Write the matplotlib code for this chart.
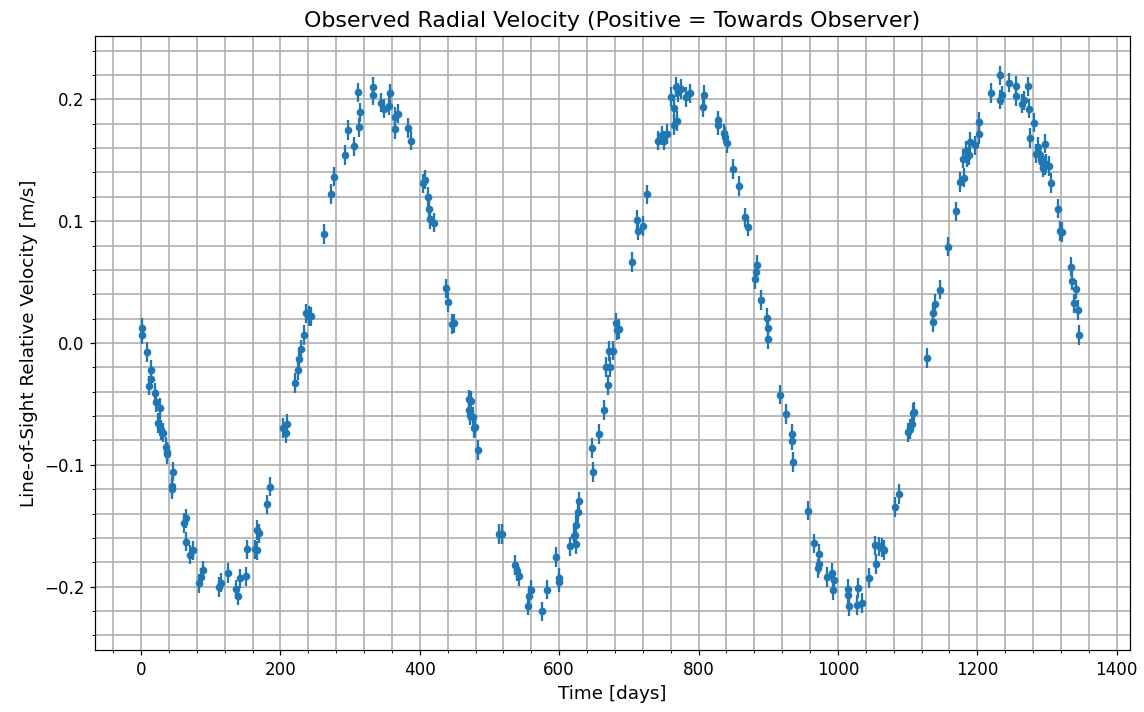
import matplotlib
matplotlib.use("Agg")
import matplotlib.pyplot as plt
from matplotlib.ticker import AutoMinorLocator

# observation times [days]
days = [1, 2, 9, 15, 14, 12, 20, 22, 27, 24, 27, 28, 31, 36, 38, 37, 46, 44, 45,
        62, 64, 64, 71, 74, 83, 86, 89, 112, 115, 125, 136, 139, 142, 151, 152,
        163, 166, 166, 170, 181, 185, 204, 210, 208, 221, 225, 227, 230, 234,
        237, 241, 244, 263, 273, 277, 292, 297, 306, 313, 314, 312, 333, 333,
        345, 349, 356, 357, 365, 369, 364, 383, 387, 405, 408, 412, 413, 415,
        421, 438, 441, 446, 449, 470, 474, 471, 472, 476, 478, 479, 483, 513,
        518, 537, 540, 543, 559, 557, 555, 575, 582, 596, 600, 600, 616, 621,
        622, 624, 624, 627, 628, 647, 649, 657, 664, 670, 667, 673, 672, 677,
        681, 683, 686, 704, 712, 713, 720, 726, 742, 747, 750, 754, 760, 765,
        765, 769, 768, 771, 775, 782, 787, 807, 808, 828, 828, 836, 838, 841,
        849, 858, 867, 871, 884, 882, 881, 890, 898, 899, 899, 917, 926, 934,
        934, 936, 957, 965, 973, 973, 971, 984, 992, 995, 993, 1015, 1015, 1016,
        1029, 1028, 1034, 1044, 1055, 1053, 1059, 1066, 1063, 1082, 1087, 1101,
        1103, 1106, 1108, 1109, 1128, 1136, 1137, 1139, 1146, 1158, 1170, 1175,
        1181, 1180, 1183, 1185, 1188, 1190, 1196, 1202, 1202, 1220, 1232, 1235,
        1233, 1246, 1256, 1255, 1273, 1264, 1267, 1274, 1281, 1275, 1287, 1284,
        1290, 1297, 1292, 1294, 1299, 1297, 1303, 1306, 1316, 1319, 1322, 1334,
        1336, 1341, 1338, 1344, 1346]

# radial velocity [m/s]
rv = [0.0125, 0.0068, -0.0074, -0.0219, -0.0293, -0.0350, -0.0412, -0.0484,
      -0.0535, -0.0656, -0.0686, -0.0713, -0.0735, -0.0850, -0.0891, -0.0910,
      -0.1055, -0.1172, -0.1199, -0.1478, -0.1440, -0.1631, -0.1738, -0.1702,
      -0.1973, -0.1924, -0.1866, -0.2002, -0.1967, -0.1888, -0.2022, -0.2074,
      -0.1932, -0.1916, -0.1694, -0.1694, -0.1702, -0.1533, -0.1563, -0.1325,
      -0.1178, -0.0699, -0.0666, -0.0740, -0.0330, -0.0221, -0.0134, -0.0052,
      0.0066, 0.0243, 0.0221, 0.0219, 0.0896, 0.1224, 0.1366, 0.1543, 0.1749,
      0.1615, 0.1770, 0.1893, 0.2057, 0.2104, 0.2035, 0.1973, 0.1924, 0.1948,
      0.2049, 0.1855, 0.1883, 0.1757, 0.1765, 0.1661, 0.1311, 0.1342, 0.1199,
      0.1101, 0.1019, 0.0989, 0.0448, 0.0336, 0.0156, 0.0161, -0.0462, -0.0473,
      -0.0549, -0.0590, -0.0609, -0.0699, -0.0691, -0.0880, -0.1566, -0.1566,
      -0.1822, -0.1874, -0.1916, -0.2025, -0.2074, -0.2156, -0.2202, -0.2025,
      -0.1757, -0.1929, -0.1964, -0.1669, -0.1587, -0.1574, -0.1650, -0.1492,
      -0.1391, -0.1301, -0.0863, -0.1060, -0.0748, -0.0549, -0.0344, -0.0199,
      -0.0199, -0.0066, -0.0063, 0.0166, 0.0107, 0.0116, 0.0666, 0.1008, 0.0923,
      0.0962, 0.1219, 0.1661, 0.1705, 0.1661, 0.1714, 0.2021, 0.1930, 0.1790,
      0.1822, 0.2100, 0.2057, 0.2085, 0.2021, 0.2050, 0.1936, 0.2036, 0.1828,
      0.1790, 0.1720, 0.1693, 0.1638, 0.1427, 0.1289, 0.1032, 0.0956, 0.0643,
      0.0584, 0.0525, 0.0352, 0.0209, 0.0124, 0.0034, -0.0423, -0.0581, -0.0743,
      -0.0801, -0.0976, -0.1375, -0.1644, -0.1729, -0.1814, -0.1849, -0.1922,
      -0.1884, -0.1948, -0.2030, -0.2016, -0.2071, -0.2159, -0.2013, -0.2151,
      -0.2133, -0.1928, -0.1814, -0.1662, -0.1670, -0.1700, -0.1680, -0.1348,
      -0.1240, -0.0734, -0.0704, -0.0661, -0.0575, -0.0564, -0.0125, 0.0171,
      0.0244, 0.0320, 0.0438, 0.0792, 0.1081, 0.1322, 0.1358, 0.1514, 0.1576,
      0.1527, 0.1541, 0.1650, 0.1623, 0.1713, 0.1817, 0.2052, 0.2197, 0.2033,
      0.1998, 0.2137, 0.2109, 0.2027, 0.2107, 0.1965, 0.1992, 0.1924, 0.1809,
      0.1683, 0.1609, 0.1555, 0.1541, 0.1637, 0.1500, 0.1440, 0.1473, 0.1459,
      0.1451, 0.1314, 0.1104, 0.0921, 0.0913, 0.0626, 0.0511, 0.0440, 0.0325,
      0.0270, 0.0066]

rv_err = 0.008

fig = plt.figure(figsize=(1144 / 110, 712 / 110), dpi=110)
ax = fig.add_subplot(111)
fig.subplots_adjust(left=95 / 1144, right=1130 / 1144, top=1 - 36 / 712, bottom=1 - 650 / 712)

ax.errorbar(days, rv, yerr=rv_err, fmt='o', markersize=4, color='#1f77b4', zorder=3)

ax.set_xlim(-66, 1419)
ax.set_ylim(-0.252, 0.252)
ax.xaxis.set_minor_locator(AutoMinorLocator(5))
ax.yaxis.set_minor_locator(AutoMinorLocator(5))
ax.tick_params(labelsize=11)
ax.grid(which='both', color='#b0b0b0', linewidth=1.1)
ax.set_axisbelow(True)

ax.set_title('Observed Radial Velocity (Positive = Towards Observer)', fontsize=14.5)
ax.set_xlabel('Time [days]', fontsize=12)
ax.set_ylabel('Line-of-Sight Relative Velocity [m/s]', fontsize=12)

fig.savefig('out.png', dpi=110)
